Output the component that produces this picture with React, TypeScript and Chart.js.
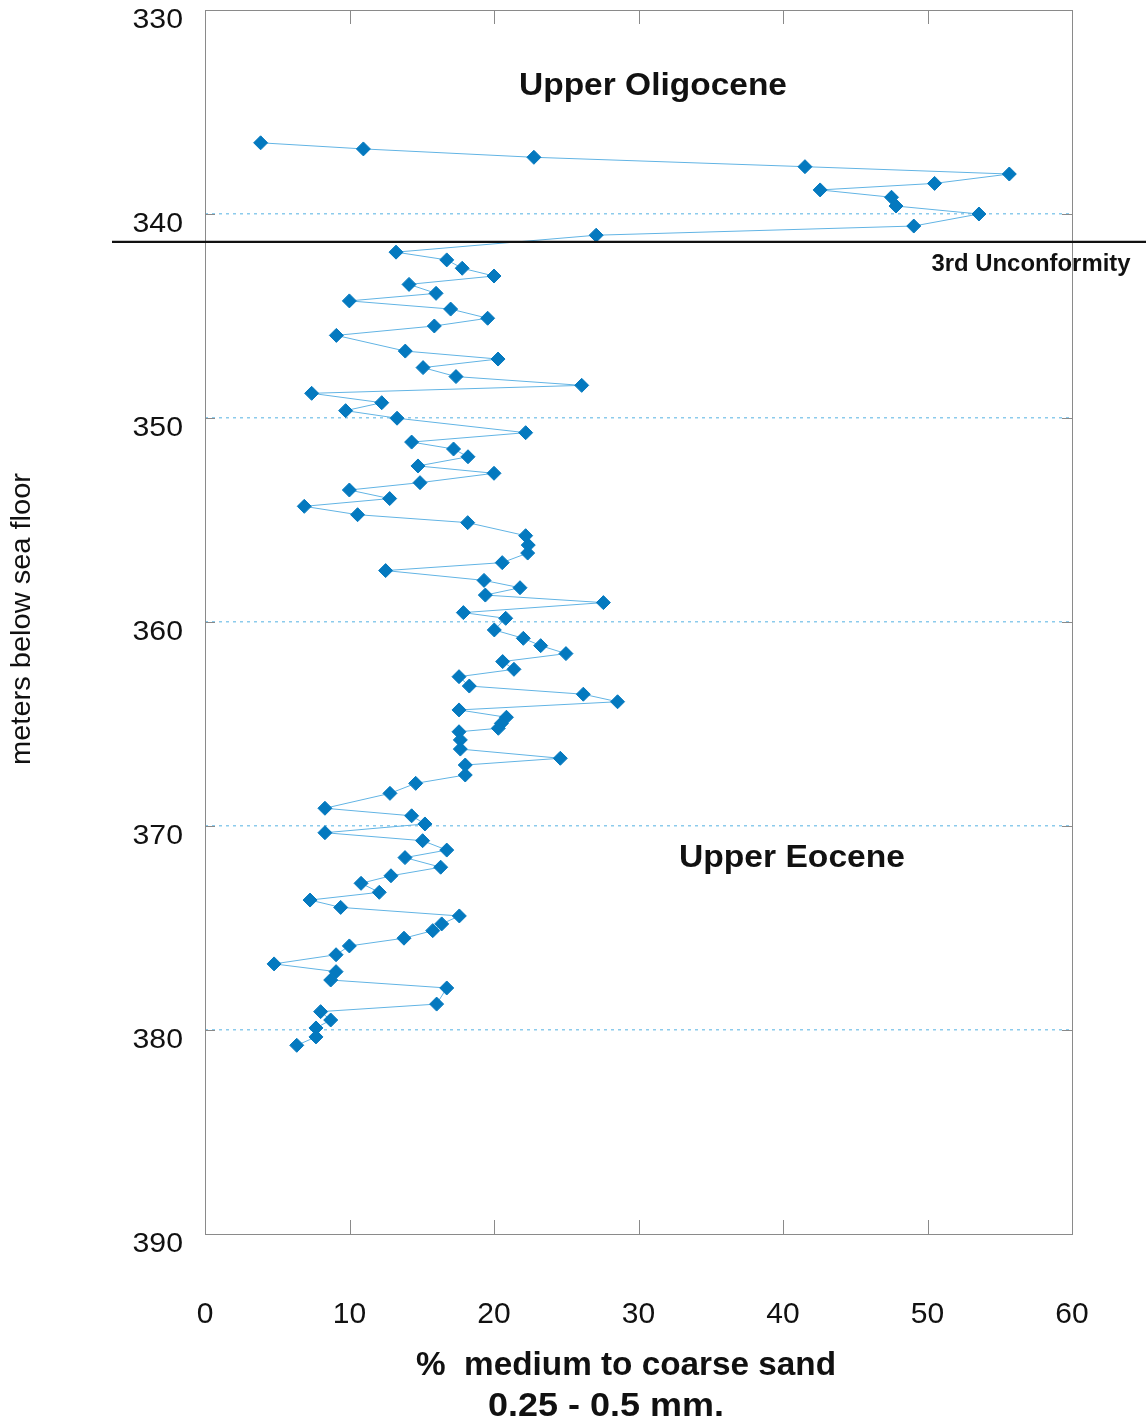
import { useEffect, useRef } from "react";
import { Chart, registerables } from "chart.js";

Chart.register(...registerables);

// Upper Oligocene samples (above the unconformity)
const oligoceneDepth = [
  336.51, 336.81, 337.22, 337.68, 338.04, 338.5, 338.82, 339.18, 339.61, 340.0, 340.59, 341.04,
];
const oligocenePct = [
  3.85, 10.96, 22.76, 41.52, 55.66, 50.49, 42.57, 47.51, 47.82, 53.56, 49.05, 27.07,
];

// Upper Eocene samples (below the unconformity)
const eoceneDepth = [
  341.87, 342.25, 342.66, 343.04, 343.45, 343.89, 344.26, 344.66, 345.11, 345.49, 345.95, 346.72,
  347.11, 347.53, 347.97, 348.4, 348.79, 349.25, 349.64, 350.01, 350.72,
  351.18, 351.52, 351.9, 352.35, 352.71, 353.17, 353.53, 353.95, 354.33, 354.74, 355.13, 355.77,
  356.23, 356.62, 357.09, 357.48, 357.96, 358.32, 358.68, 359.05, 359.54, 359.82,
  360.39, 360.8, 361.16, 361.55, 361.94, 362.32, 362.68, 363.14, 363.54, 363.91, 364.31, 364.67,
  364.97, 365.21, 365.38, 365.78, 366.23, 366.68, 367.01, 367.5, 367.91, 368.4,
  369.13, 369.5, 369.9, 370.33, 370.72, 371.18, 371.55, 372.02, 372.44, 372.81, 373.25, 373.63,
  373.99, 374.41, 374.8, 375.13, 375.5,
  375.88, 376.31, 376.76, 377.14, 377.55, 377.94, 378.73, 379.1, 379.51, 379.9, 380.34, 380.75,
];
const eocenePct = [
  13.22, 16.73, 17.8, 20.0, 14.12, 15.99, 9.99, 17.0, 19.56, 15.87, 9.09, 13.86,
  20.28, 15.09, 17.37, 26.07, 7.38, 12.23, 9.73, 13.29, 22.19,
  14.3, 17.2, 18.2, 14.74, 20.0, 14.88, 9.99, 12.78, 6.87, 10.56, 18.18, 22.19,
  22.37, 22.33, 20.57, 12.5, 19.31, 21.8, 19.4, 27.57, 17.88, 20.81,
  20.02, 22.03, 23.23, 24.98, 20.6, 21.38, 17.58, 18.29, 26.18, 28.55, 17.58, 20.86,
  20.51, 20.3, 17.58, 17.67, 17.67, 24.59, 18.01, 18.01, 14.58, 12.8,
  8.3, 14.3, 15.22, 8.3, 15.06, 16.73, 13.84, 16.31, 12.87, 10.8, 12.06, 7.27,
  9.39, 17.6, 16.38, 15.76, 13.77,
  9.99, 9.07, 4.78, 9.07, 8.7, 16.73, 16.03, 8.0, 8.7, 7.68, 7.68, 6.35,
];

const unconformityDepth = 341.37;

const xTickValues = [0, 10, 20, 30, 40, 50, 60];
const yTickValues = [330, 340, 350, 360, 370, 380, 390];

const xTitleLines = ["%  medium to coarse sand", "0.25 - 0.5 mm."];
const yTitle = "meters below sea floor";
const upperLabel = "Upper Oligocene";
const lowerLabel = "Upper Eocene";
const unconformityLabel = "3rd Unconformity";

const W = 1146;
const H = 1422;
const FAMILY = '"Liberation Sans", Arial, sans-serif';

function drawText(
  ctx: CanvasRenderingContext2D,
  text: string,
  x: number,
  y: number,
  px: number,
  bold: boolean,
  align: CanvasTextAlign,
  width?: number,
  sx?: number
) {
  ctx.save();
  ctx.font = `${bold ? "bold " : ""}${px}px ${FAMILY}`;
  const w = ctx.measureText(text).width;
  const scale = width ? width / w : sx ?? 1;
  ctx.translate(x, y);
  ctx.scale(scale, 1);
  ctx.textAlign = align;
  ctx.textBaseline = "alphabetic";
  ctx.fillStyle = "#111";
  ctx.fillText(text, 0, 0);
  ctx.restore();
}

const decorations = {
  id: "decorations",
  afterDatasetsDraw(chart: any) {
    const { ctx, chartArea } = chart;
    const xs = chart.scales.x;
    const ys = chart.scales.y;
    const { left, right, top, bottom } = chartArea;

    // frame
    ctx.save();
    ctx.strokeStyle = "#8a8a8a";
    ctx.lineWidth = 1;
    ctx.strokeRect(left + 0.5, top + 0.5, right - left, bottom - top);

    // inward tick marks on all four sides
    const tl = 14;
    ctx.beginPath();
    xTickValues.forEach((v) => {
      if (v === 0 || v === 60) return;
      const px = Math.round(xs.getPixelForValue(v)) + 0.5;
      ctx.moveTo(px, bottom);
      ctx.lineTo(px, bottom - tl);
      ctx.moveTo(px, top);
      ctx.lineTo(px, top + tl);
    });
    yTickValues.forEach((v) => {
      if (v === 330 || v === 390) return;
      const py = Math.round(ys.getPixelForValue(v)) + 0.5;
      ctx.moveTo(left, py);
      ctx.lineTo(left + 10, py);
      ctx.moveTo(right, py);
      ctx.lineTo(right - 10, py);
    });
    ctx.stroke();
    ctx.restore();

    // unconformity line, running past the plot on both sides
    const uy = ys.getPixelForValue(unconformityDepth);
    ctx.save();
    ctx.strokeStyle = "#111";
    ctx.lineWidth = 2.2;
    ctx.beginPath();
    ctx.moveTo(112, uy);
    ctx.lineTo(W, uy);
    ctx.stroke();
    ctx.restore();

    // tick labels
    yTickValues.forEach((v) => {
      const py = ys.getPixelForValue(v);
      drawText(ctx, String(v), 183, py + 18, 27, false, "right", undefined, 1.12);
    });
    xTickValues.forEach((v) => {
      const px = xs.getPixelForValue(v);
      drawText(ctx, String(v), px, 1323, 30, false, "center");
    });

    // axis titles
    drawText(ctx, xTitleLines[0], 626, 1375, 33, true, "center", 420);
    drawText(ctx, xTitleLines[1], 606, 1416, 33, true, "center", 236);

    ctx.save();
    ctx.translate(22, 619);
    ctx.rotate(-Math.PI / 2);
    ctx.font = `28px ${FAMILY}`;
    const tw = ctx.measureText(yTitle).width;
    ctx.scale(292 / tw, 1);
    ctx.textAlign = "center";
    ctx.textBaseline = "middle";
    ctx.fillStyle = "#111";
    ctx.fillText(yTitle, 0, 0);
    ctx.restore();

    // unit labels
    drawText(ctx, upperLabel, 653, 95, 31, true, "center", 268);
    drawText(ctx, lowerLabel, 792, 867, 31, true, "center", 226);
    drawText(ctx, unconformityLabel, 1031, 271, 23, true, "center", 199);
  },
};

export default function App() {
  const ref = useRef<HTMLCanvasElement | null>(null);

  useEffect(() => {
    if (!ref.current) return;
    const depth = [...oligoceneDepth, ...eoceneDepth];
    const pct = [...oligocenePct, ...eocenePct];
    const points = depth.map((d, i) => ({ x: pct[i], y: d }));

    const chart = new Chart(ref.current, {
      type: "scatter",
      data: {
        datasets: [
          {
            data: points,
            showLine: true,
            borderColor: "#62b4e4",
            borderWidth: 1,
            tension: 0,
            pointStyle: "rectRot",
            pointRadius: 7,
            pointBorderWidth: 1,
            pointBackgroundColor: "#0479bf",
            pointBorderColor: "#0479bf",
            pointHoverRadius: 7,
          },
        ],
      },
      options: {
        responsive: false,
        devicePixelRatio: 1,
        animation: false,
        events: [],
        layout: { padding: { top: 10, right: W - 1072, left: 0, bottom: 0 } },
        plugins: {
          legend: { display: false },
          tooltip: { enabled: false },
        },
        scales: {
          x: {
            type: "linear",
            min: 0,
            max: 60,
            ticks: { display: false, stepSize: 10 },
            grid: { display: false, drawTicks: false },
            border: { display: false },
            afterFit: (s: any) => {
              s.height = H - 1234;
            },
          },
          y: {
            type: "linear",
            reverse: true,
            min: 330,
            max: 390,
            ticks: { display: false, stepSize: 10 },
            grid: {
              drawTicks: false,
              lineWidth: 1.5,
              color: (c: any) =>
                c.tick && (c.tick.value === 330 || c.tick.value === 390)
                  ? "rgba(0,0,0,0)"
                  : "#8ccbec",
            },
            border: { display: false, dash: [3, 4] },
            afterFit: (s: any) => {
              s.width = 205;
            },
          },
        },
      },
      plugins: [decorations],
    });
    return () => chart.destroy();
  }, []);

  return (
    <div
      style={{
        position: "absolute",
        left: 0,
        top: 0,
        width: W,
        height: H,
        background: "#fff",
      }}
    >
      <canvas ref={ref} width={W} height={H} style={{ display: "block" }} />
    </div>
  );
}
